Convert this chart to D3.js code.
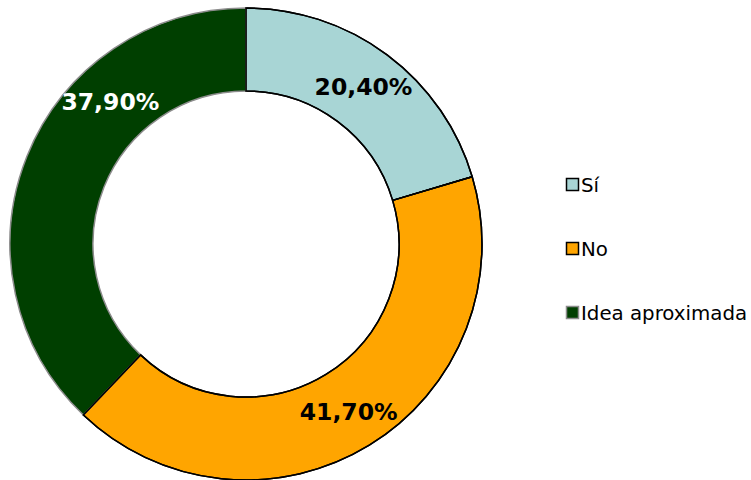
<!DOCTYPE html>
<html><head><meta charset="utf-8">
<script src="https://cdn.jsdelivr.net/npm/d3@7"></script>
<style>body{margin:0;background:#fff}svg{display:block}</style>
</head><body>
<svg id="c" width="751" height="480"></svg>
<script>
const categories = ["Sí", "No", "Idea aproximada"];
const values = [20.4, 41.7, 37.9];
const labels = ["20,40%", "41,70%", "37,90%"];
const colors = ["#A8D5D5", "#FFA500", "#003F00"];
const strokes = ["#000000", "#000000", "#8C8C8C"];
const labelColors = ["#000000", "#000000", "#FFFFFF"];
const labelFrac = [0.5, 0.5, 0.68];

const svg = d3.select("#c");
const cx = 246, cy = 244, rOuter = 236, rInner = 153;
const g = svg.append("g").attr("transform", `translate(${cx},${cy})`);
const pie = d3.pie().sort(null).value(d => d)(values);
const arc = d3.arc().innerRadius(rInner).outerRadius(rOuter);

g.selectAll("path.s").data(pie).enter().append("path")
  .attr("d", arc)
  .attr("fill", (d,i) => colors[i])
  .attr("stroke", (d,i) => strokes[i])
  .attr("stroke-width", 1.5);
g.selectAll("path.t").data(pie.slice(0,2)).enter().append("path")
  .attr("d", arc).attr("fill", "none").attr("stroke", "#000").attr("stroke-width", 1.5);

const rl = (rInner + rOuter) / 2 + 2;
g.selectAll("text.l").data(pie).enter().append("text")
  .attr("x", (d,i) => { const a = d.startAngle + (d.endAngle - d.startAngle) * labelFrac[i]; return rl * Math.sin(a); })
  .attr("y", (d,i) => { const a = d.startAngle + (d.endAngle - d.startAngle) * labelFrac[i]; return -rl * Math.cos(a); })
  .attr("text-anchor", "middle")
  .attr("dominant-baseline", "central")
  .attr("font-family", "DejaVu Sans, Verdana, sans-serif")
  .attr("font-weight", "bold")
  .attr("font-size", 23.5)
  .attr("fill", (d,i) => labelColors[i])
  .text((d,i) => labels[i]);

const leg = svg.append("g").attr("transform", "translate(566,178)");
const items = leg.selectAll("g").data(categories).enter().append("g")
  .attr("transform", (d,i) => `translate(0,${i*64})`);
items.append("rect").attr("x", 0.5).attr("y", 0.5).attr("width", 12).attr("height", 12)
  .attr("fill", (d,i) => colors[i])
  .attr("stroke", (d,i) => i === 2 ? "#8C8C8C" : "#000").attr("stroke-width", 1.5);
items.append("text").attr("x", 15).attr("y", 7)
  .attr("dominant-baseline", "central")
  .attr("font-family", "DejaVu Sans, Verdana, sans-serif")
  .attr("font-size", 19.8)
  .attr("fill", "#000")
  .text(d => d);
</script>
</body></html>
